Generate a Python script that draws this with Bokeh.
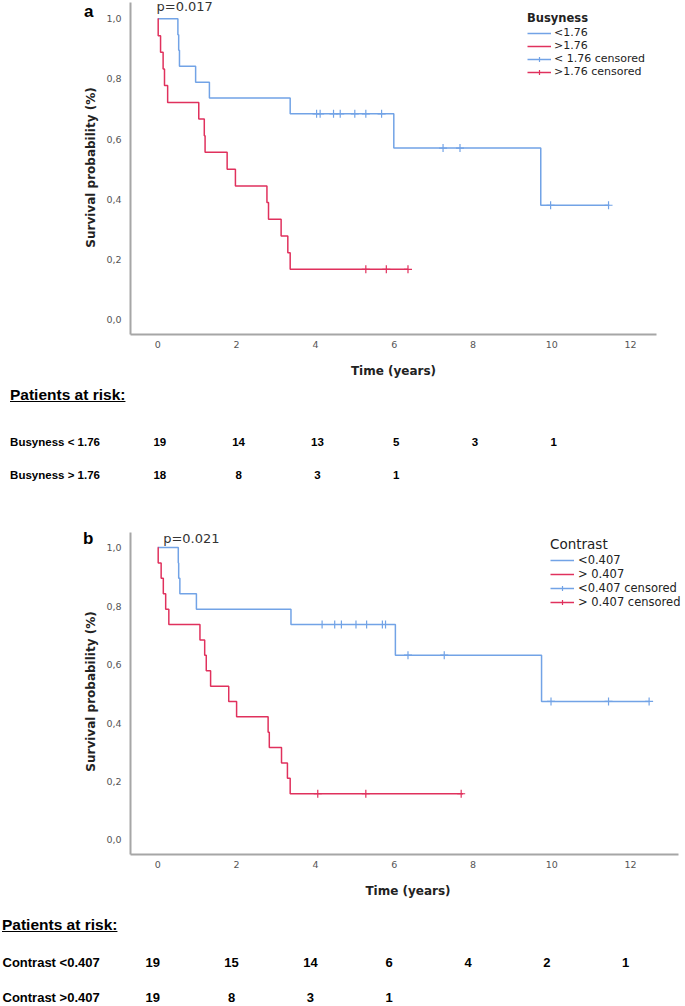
import numpy as np
from bokeh.plotting import figure
from bokeh.models import (Range1d, FixedTicker, CustomJSTickFormatter, Legend,
                          LegendItem, Label, Div, ColumnDataSource, LinearAxis)
from bokeh.layouts import column
from bokeh.embed import file_html
from bokeh.resources import INLINE
from bokeh.core.properties import value

# ---------------- data ----------------
# Panel a: Busyness
busy_low_t = [0, 0.51, 0.53, 0.55, 0.96, 1.31, 3.36, 5.99, 9.72, 11.46]
busy_low_s = [1.0, 0.947, 0.895, 0.842, 0.789, 0.737, 0.684, 0.570, 0.380, 0.380]
busy_low_cens = [4.03, 4.12, 4.46, 4.63, 5.00, 5.28, 5.68, 7.24, 7.67, 9.97, 11.44]

busy_high_t = [0, 0.01, 0.07, 0.135, 0.17, 0.25, 1.04, 1.18, 1.20, 1.76, 1.97,
               2.77, 2.81, 3.13, 3.30, 3.36, 6.35]
busy_high_s = [1.0, 0.944, 0.889, 0.833, 0.778, 0.722, 0.667, 0.611, 0.556, 0.500,
               0.444, 0.389, 0.333, 0.278, 0.222, 0.167, 0.167]
busy_high_cens = [5.28, 5.80, 6.35]

# Panel b: Contrast
contrast_low_t = [0, 0.52, 0.53, 0.56, 0.98, 3.38, 6.03, 9.74, 12.47]
contrast_low_s = [1.0, 0.947, 0.895, 0.842, 0.789, 0.737, 0.632, 0.474, 0.474]
contrast_low_cens = [4.17, 4.49, 4.66, 5.03, 5.30, 5.70, 5.78, 6.35, 7.27, 9.98, 11.44, 12.47]

contrast_high_t = [0, 0.01, 0.085, 0.14, 0.20, 0.28, 1.07, 1.19, 1.23, 1.34, 1.80,
                   2.00, 2.80, 2.83, 3.14, 3.29, 3.36, 7.75]
contrast_high_s = [1.0, 0.947, 0.895, 0.842, 0.789, 0.737, 0.684, 0.632, 0.579, 0.526,
                   0.474, 0.421, 0.368, 0.316, 0.263, 0.211, 0.158, 0.158]
contrast_high_cens = [4.06, 5.28, 7.70]

# Patients at risk
risk_times_a = [0, 2, 4, 6, 8, 10]
busy_low_risk = [19, 14, 13, 5, 3, 1]
busy_high_risk = [18, 8, 3, 1]
risk_times_b = [0, 2, 4, 6, 8, 10, 12]
contrast_low_risk = [19, 15, 14, 6, 4, 2, 1]
contrast_high_risk = [19, 8, 3, 1]

x_ticks = [0, 2, 4, 6, 8, 10, 12]
y_ticks = [0.0, 0.2, 0.4, 0.6, 0.8, 1.0]

# ---------------- style / layout ----------------
BLUE = "#72a3e6"
RED = "#e0315d"
W = 685
T0 = 157.3      # canvas x of t = 0
PPY = 39.4      # pixels per year
LEFT = 130      # frame left on canvas


def level_at(ts, ss, cs):
    ts = np.asarray(ts)
    ss = np.asarray(ss)
    idx = np.searchsorted(ts, cs, side="right") - 1
    return ss[np.clip(idx, 0, len(ss) - 1)].tolist()


def km_panel(height, top, bottom, right, ppu, zero_px, axis_end_px, yaxis_top_px, curves,
             leg_title, leg_labels, leg_title_style, leg_title_size, leg_label_size,
             leg_standoff, leg_title_standoff, leg_loc, letter, letter_py, pval, pval_px):
    frame_w = W - LEFT - right
    frame_h = height - top - bottom
    x0 = (LEFT - T0) / PPY
    x1 = x0 + frame_w / PPY
    frame_bottom = height - bottom
    y0 = -(frame_bottom - zero_px) / ppu
    y1 = y0 + frame_h / ppu
    p = figure(width=W, height=height, x_range=Range1d(x0, x1), y_range=Range1d(y0, y1),
               output_backend="svg", toolbar_location=None, title=None,
               min_border_left=LEFT, min_border_right=right,
               min_border_top=top, min_border_bottom=bottom)
    p.frame_align = False
    p.grid.visible = False
    p.outline_line_color = None
    p.background_fill_color = "white"
    p.border_fill_color = "white"

    for ax in (p.xaxis[0], p.yaxis[0]):
        ax.axis_line_color = "#a6a6a6"
        ax.axis_line_width = 2
        ax.major_tick_line_color = None
        ax.minor_tick_line_color = None
        ax.major_label_text_font = "DejaVu Sans"
        ax.major_label_text_font_size = "9.5px"
        ax.major_label_text_color = "#555555"
        ax.axis_label_text_font = "DejaVu Sans"
        ax.axis_label_text_font_size = "12px"
        ax.axis_label_text_font_style = "bold"
        ax.axis_label_text_color = "#222222"
    p.xaxis[0].major_label_standoff = 0
    p.yaxis[0].major_label_standoff = 3
    p.xaxis[0].ticker = FixedTicker(ticks=x_ticks)
    p.yaxis[0].ticker = FixedTicker(ticks=y_ticks)
    p.yaxis[0].formatter = CustomJSTickFormatter(code="return tick.toFixed(1).replace('.', ',')")
    p.xaxis[0].axis_label = "Time (years)"
    p.yaxis[0].axis_label = "Survival probability (%)"
    p.xaxis[0].axis_label_standoff = 13
    p.yaxis[0].axis_label_standoff = 5
    p.xaxis[0].bounds = (x0, (axis_end_px - T0) / PPY)
    p.yaxis[0].bounds = (y0, (zero_px - yaxis_top_px) / ppu)

    renders = []
    for (ts, ss, cs, col) in curves:
        src = ColumnDataSource(dict(x=ts, y=ss))
        r_line = p.step(x="x", y="y", source=src, mode="after", line_color=col, line_width=1.5)
        csrc = ColumnDataSource(dict(x=cs, y=level_at(ts, ss, cs)))
        r_c = p.scatter(x="x", y="y", source=csrc, marker="cross", size=8,
                        line_color=col, line_width=1.2)
        renders.append((r_line, r_c))
    (l0, c0), (l1, c1) = renders
    items = [LegendItem(label=leg_labels[0], renderers=[l0]),
             LegendItem(label=leg_labels[1], renderers=[l1]),
             LegendItem(label=leg_labels[2], renderers=[l0, c0]),
             LegendItem(label=leg_labels[3], renderers=[l1, c1])]
    leg = Legend(items=items, location=leg_loc, title=leg_title,
                 title_text_font="DejaVu Sans", title_text_font_style=leg_title_style,
                 title_text_font_size=leg_title_size, title_text_color="#222222",
                 title_standoff=leg_title_standoff,
                 label_text_font="DejaVu Sans", label_text_font_size=leg_label_size,
                 label_text_color="#222222", label_standoff=leg_standoff,
                 glyph_width=24, glyph_height=12, label_height=12, spacing=0,
                 padding=0, margin=0, border_line_color=None, background_fill_alpha=0)
    p.add_layout(leg)

    # panel letter as the only tick label of an extra, invisible left axis
    p.extra_y_ranges = {"px": Range1d(start=frame_h, end=0)}
    lab_ax = LinearAxis(y_range_name="px", ticker=FixedTicker(ticks=[letter_py]),
                        major_label_overrides={letter_py: letter},
                        axis_line_color=None, major_tick_line_color=None,
                        minor_tick_line_color=None, major_label_standoff=-18,
                        major_label_text_font="Liberation Sans",
                        major_label_text_font_size="17px",
                        major_label_text_font_style="bold",
                        major_label_text_color="#000000")
    p.add_layout(lab_ax, "left")

    p.add_layout(Label(x=(pval_px[0] - T0) / PPY, y=(zero_px - pval_px[1]) / ppu, text=pval,
                       text_font="DejaVu Sans", text_font_size="13px", text_color="#333333",
                       text_align="left", text_baseline="middle"))
    return p


def risk_table(height, rows, font_size, x_off):
    xs0 = (0 - T0) / PPY
    xs1 = xs0 + W / PPY
    t = figure(width=W, height=height, x_range=Range1d(xs0, xs1), y_range=Range1d(height, 0),
               output_backend="svg", toolbar_location=None, title=None,
               x_axis_type=None, y_axis_type=None, min_border=0)
    t.frame_align = False
    t.grid.visible = False
    t.outline_line_color = None
    t.background_fill_color = "white"
    t.border_fill_color = "white"
    for (label, times, counts, ypos, label_x) in rows:
        t.text(x=[xs0 + label_x / PPY], y=[ypos], text=[label],
               text_font=value("Liberation Sans"), text_font_style=value("bold"),
               text_font_size=value(font_size), text_color="#000000",
               text_align=value("left"), text_baseline=value("middle"))
        n = len(counts)
        t.text(x=times[:n], y=[ypos] * n, text=[str(c) for c in counts],
               text_font=value("Liberation Sans"), text_font_style=value("bold"),
               text_font_size=value(font_size), text_color="#000000",
               text_align=value("center"), text_baseline=value("middle"), x_offset=x_off)
    return t


def heading(height, pad_top, pad_left):
    html = ('<div style="font-family:\'Liberation Sans\';font-weight:bold;font-size:15.5px;'
            'text-decoration:underline;line-height:22px;color:#000;'
            'padding-top:%dpx;padding-left:%dpx;white-space:nowrap;">Patients at risk:</div>'
            % (pad_top, pad_left))
    return Div(text=html, width=W, height=height, margin=0)


figA = km_panel(height=384, top=0, bottom=50, right=29, ppu=300.7, zero_px=319.0,
                axis_end_px=656, yaxis_top_px=2,
                curves=[(busy_low_t, busy_low_s, busy_low_cens, BLUE),
                        (busy_high_t, busy_high_s, busy_high_cens, RED)],
                leg_title="Busyness",
                leg_labels=["<1.76", ">1.76", "< 1.76 censored", ">1.76 censored"],
                leg_title_style="bold", leg_title_size="11.5px", leg_label_size="11px",
                leg_standoff=3, leg_title_standoff=1, leg_loc=(397, 256),
                letter="a", letter_py=11,
                pval="p=0.017", pval_px=(156, 6))

tabA = risk_table(100, [("Busyness < 1.76", risk_times_a, busy_low_risk, 29, 9.6),
                        ("Busyness > 1.76", risk_times_a, busy_high_risk, 62, 9.6)],
                  "11.5px", 2)

# figB canvas starts at page y = 512
figB = km_panel(height=388, top=16, bottom=43, right=0, ppu=295.0, zero_px=842.3 - 512,
                axis_end_px=678, yaxis_top_px=532 - 512,
                curves=[(contrast_low_t, contrast_low_s, contrast_low_cens, BLUE),
                        (contrast_high_t, contrast_high_s, contrast_high_cens, RED)],
                leg_title="Contrast",
                leg_labels=["<0.407", "> 0.407", "<0.407 censored", "> 0.407 censored"],
                leg_title_style="normal", leg_title_size="13.5px", leg_label_size="11.5px",
                leg_standoff=4, leg_title_standoff=1, leg_loc=(420, 245),
                letter="b", letter_py=10,
                pval="p=0.021", pval_px=(162.7, 538.3 - 512))

tabB = risk_table(68, [("Contrast <0.407", risk_times_b, contrast_low_risk, 24, 2),
                       ("Contrast >0.407", risk_times_b, contrast_high_risk, 59, 2)],
                  "13px", -5)

layout = column(figA, heading(28, 0, 10), tabA, figB, heading(38, 14, 2), tabB, spacing=0)

open("out.html", "w").write(file_html(layout, INLINE))
